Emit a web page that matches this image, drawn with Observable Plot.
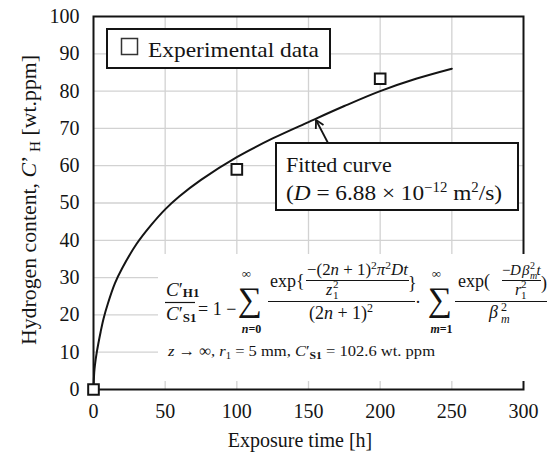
<!DOCTYPE html>
<html><head><meta charset="utf-8">
<script src="https://cdn.jsdelivr.net/npm/d3@7"></script>
<script src="https://cdn.jsdelivr.net/npm/@observablehq/plot@0.6"></script>
<style>
html,body{margin:0;padding:0;background:#fff;}
#chart{position:relative;width:552px;height:459px;}
</style></head><body><div id="chart"></div>
<script>
// ---- data ----
const expTime = [0, 100, 200];
const expH = [0, 59, 83.3];
const fitTime = [0, 0.5, 1, 2.3, 5, 7, 10, 15, 20, 30, 40, 50, 60, 75, 100, 125, 150, 175, 200, 225, 250];
const fitH    = [0, 4.5, 6.5, 10, 15.5, 19, 23, 28.5, 32.5, 39, 44, 48.3, 51.8, 56.2, 62.3, 67.3, 71.7, 76, 80, 83.3, 86];
const xTicks = [0, 50, 100, 150, 200, 250, 300];
const yTicks = [0, 10, 20, 30, 40, 50, 60, 70, 80, 90, 100];

const fit = fitTime.map((t, i) => ({t, h: fitH[i]}));
const exp = expTime.map((t, i) => ({t, h: expH[i]}));

const INK = "#141414";
const SERIF = "'Liberation Serif', 'Times New Roman', serif";

function txt(g, x, y, parts, attrs = {}) {
  const t = g.append("text").attr("x", x).attr("y", y);
  for (const k in attrs) t.attr(k, attrs[k]);
  if (typeof parts === "string") parts = [parts];
  for (let p of parts) {
    if (typeof p === "string") p = {t: p};
    const s = t.append("tspan").text(p.t);
    if (p.i) s.attr("font-style", "italic");
    if (p.b) s.attr("font-weight", "bold");
    if (p.fs) s.attr("font-size", p.fs);
    if (p.dy) s.attr("dy", p.dy);
    if (p.dx) s.attr("dx", p.dx);
  }
  return t;
}
function hline(g, x1, x2, y, w = 1.2) {
  g.append("line").attr("x1", x1).attr("x2", x2).attr("y1", y).attr("y2", y)
    .attr("stroke", INK).attr("stroke-width", w);
}

// white patch with the model formula
function formula() {
  const g = d3.create("svg:g").attr("font-family", SERIF).attr("fill", INK)
    .attr("font-size", 18).attr("text-anchor", "start");
  g.append("rect").attr("x", 158).attr("y", 254).attr("width", 394).attr("height", 127).attr("fill", "#fff");
  // C'H1 / C'S1
  txt(g, 166, 296, [{t: "C", i: 1}, "′", {t: "H1", b: 1, fs: 13, dy: 1}], {"font-size": 19});
  hline(g, 165, 195, 302.5);
  txt(g, 166, 320, [{t: "C", i: 1}, "′", {t: "S1", b: 1, fs: 13, dy: 2}], {"font-size": 19});
  txt(g, 198, 315, "= 1 −");
  // sums
  for (const [cx, lo] of [[249.5, "n"], [439.5, "m"]]) {
    txt(g, cx, 311, "∑", {"text-anchor": "middle", "font-size": 34});
    txt(g, cx - 3, 278, "∞", {"text-anchor": "middle", "font-size": 13});
    txt(g, cx + 2, 333, [{t: lo, i: 1}, lo === "n" ? "=0" : "=1"], {"text-anchor": "middle", "font-size": 12, "font-weight": "bold"});
  }
  // first big fraction
  hline(g, 268, 415, 301.5);
  txt(g, 270, 287, "exp{");
  txt(g, 307, 275, ["−(2", {t: "n", i: 1}, " + 1)", {t: "2", fs: 11, dy: -6}, {t: "π", i: 1, dy: 6}, {t: "2", fs: 11, dy: -6}, {t: "Dt", i: 1, dy: 6}],
      {"font-size": 16, textLength: 101, lengthAdjust: "spacingAndGlyphs"});
  hline(g, 306, 409, 280.5, 1);
  txt(g, 326, 295, [{t: "z", i: 1}], {"font-size": 16});
  txt(g, 333, 288, "2", {"font-size": 11});
  txt(g, 333, 299, "1", {"font-size": 11});
  txt(g, 408, 289, "}");
  txt(g, 341, 319, ["(2", {t: "n", i: 1}, " + 1)", {t: "2", fs: 12, dy: -7}], {"text-anchor": "middle"});
  txt(g, 418, 308, "·", {"text-anchor": "middle"});
  // second big fraction
  hline(g, 455, 547, 301.5);
  txt(g, 458, 287, "exp(");
  txt(g, 502, 275, "−", {"font-size": 15});
  txt(g, 510, 275, [{t: "D", i: 1}], {"font-size": 15});
  txt(g, 522, 275, [{t: "β", i: 1}], {"font-size": 15});
  txt(g, 530, 269, "2", {"font-size": 10});
  txt(g, 530, 279, [{t: "m", i: 1}], {"font-size": 10});
  txt(g, 536.5, 275, [{t: "t", i: 1}], {"font-size": 15});
  hline(g, 502, 541, 280.5, 1);
  txt(g, 515, 295, [{t: "r", i: 1}], {"font-size": 16});
  txt(g, 521, 288, "2", {"font-size": 11});
  txt(g, 521, 299, "1", {"font-size": 11});
  txt(g, 541, 289, ")");
  txt(g, 489, 318, [{t: "β", i: 1}]);
  txt(g, 501, 311, "2", {"font-size": 12});
  txt(g, 501, 323, [{t: "m", i: 1}], {"font-size": 12});
  // conditions line
  txt(g, 168, 356, [{t: "z", i: 1}, " → ∞, ", {t: "r", i: 1}, {t: "1", fs: 10, dy: 3}, {t: " = 5 mm, ", dy: -3},
                    {t: "C", i: 1}, "′", {t: "S1", b: 1, fs: 11, dy: 3}, {t: " = 102.6 wt. ppm", dy: -3}],
      {"font-size": 15.5, textLength: 267, lengthAdjust: "spacingAndGlyphs"});
  return g.node();
}

// legend, callout, axis titles
function annotations() {
  const g = d3.create("svg:g").attr("font-family", SERIF).attr("fill", INK).attr("text-anchor", "start");
  // legend
  g.append("rect").attr("x", 107).attr("y", 29).attr("width", 223).attr("height", 39)
    .attr("fill", "#fff").attr("stroke", INK).attr("stroke-width", 2);
  g.append("rect").attr("x", 121.5).attr("y", 38.5).attr("width", 16).attr("height", 16)
    .attr("fill", "none").attr("stroke", "#333").attr("stroke-width", 1.5);
  txt(g, 148, 57, "Experimental data", {"font-size": 22, textLength: 171, lengthAdjust: "spacingAndGlyphs"});
  // callout
  const ax1 = 328, ay1 = 143, ax2 = 316, ay2 = 120;
  g.append("line").attr("x1", ax1).attr("y1", ay1).attr("x2", ax2).attr("y2", ay2)
    .attr("stroke", INK).attr("stroke-width", 1.8);
  const ang = Math.atan2(ay1 - ay2, ax1 - ax2);
  for (const s of [-0.5, 0.5]) {
    g.append("line").attr("x1", ax2).attr("y1", ay2)
      .attr("x2", ax2 + 9 * Math.cos(ang + s)).attr("y2", ay2 + 9 * Math.sin(ang + s))
      .attr("stroke", INK).attr("stroke-width", 1.8);
  }
  g.append("rect").attr("x", 276).attr("y", 143).attr("width", 242).attr("height", 67)
    .attr("fill", "#fff").attr("stroke", INK).attr("stroke-width", 2);
  txt(g, 286, 172, "Fitted curve", {"font-size": 22});
  txt(g, 286, 200, ["(", {t: "D", i: 1}, " = 6.88 × 10", {t: "−12", fs: 14, dy: -8}, {t: " m", dy: 8},
                    {t: "2", fs: 14, dy: -8}, {t: "/s)", dy: 8}],
      {"font-size": 22, textLength: 216, lengthAdjust: "spacingAndGlyphs"});
  // axis titles
  txt(g, 300, 447, "Exposure time [h]", {"font-size": 20, "text-anchor": "middle"});
  txt(g, 0, 0, ["Hydrogen content, ", {t: "C", i: 1}, "’", {t: " H", fs: 14, dy: 4}, {t: " [wt.ppm]", dy: -4}],
      {"font-size": 20, "text-anchor": "middle", textLength: 290, lengthAdjust: "spacingAndGlyphs",
       transform: "translate(36,200) rotate(-90)"});
  return g.node();
}

const chart = Plot.plot({
  width: 552, height: 459,
  marginLeft: 93, marginRight: 29, marginTop: 16, marginBottom: 70,
  x: {domain: [0, 300]},
  y: {domain: [0, 100]},
  style: {fontFamily: SERIF, fontSize: "20px", color: INK, background: "#fff"},
  marks: [
    Plot.ruleX(xTicks.slice(1, -1), {stroke: "#d2d2d2", strokeWidth: 1.3}),
    Plot.ruleY(yTicks.slice(1, -1), {stroke: "#d2d2d2", strokeWidth: 1.3}),
    Plot.frame({stroke: INK, strokeWidth: 2}),
    formula,
    Plot.axisX(xTicks, {tickSize: 0, tickPadding: 14, fontSize: 20, label: null}),
    Plot.axisY(yTicks, {tickSize: 0, tickPadding: 14, fontSize: 20, label: null}),
    Plot.line(fit, {x: "t", y: "h", stroke: INK, strokeWidth: 2, curve: "catmull-rom"}),
    Plot.dot(exp, {x: "t", y: "h", symbol: "square", r: 6, fill: "#fff", stroke: INK, strokeWidth: 2}),
    annotations
  ]
});
document.getElementById("chart").appendChild(chart);
</script>
</body></html>
